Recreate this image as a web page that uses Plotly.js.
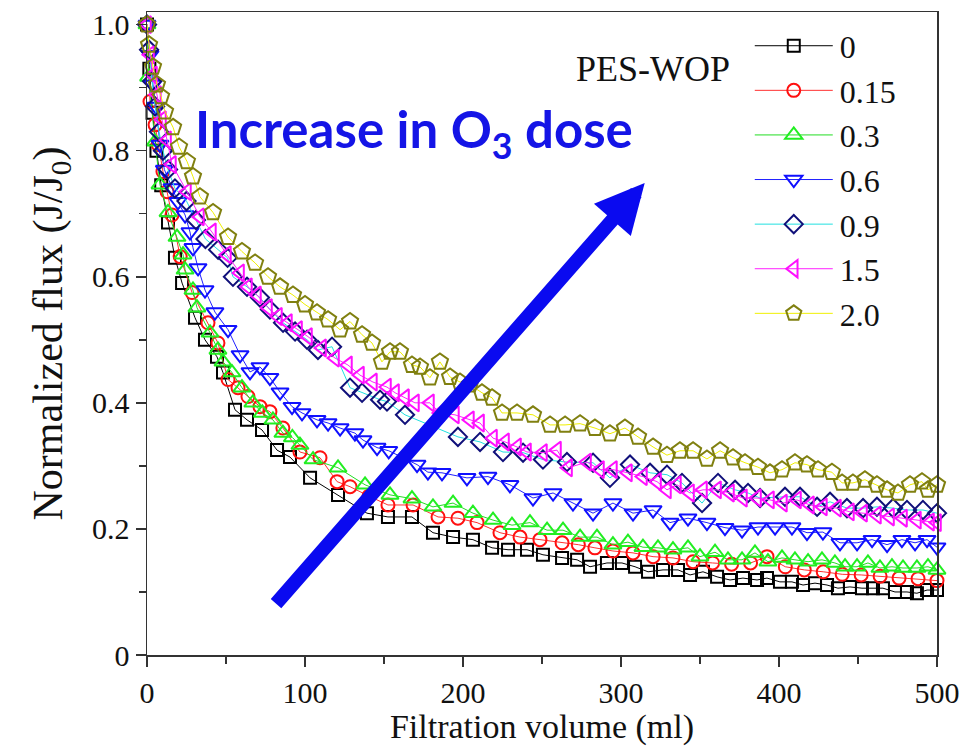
<!DOCTYPE html>
<html>
<head>
<meta charset="utf-8">
<script src="https://cdn.plot.ly/plotly-3.0.1.min.js"></script>
<style>html,body{margin:0;padding:0;background:#fff;}#chart{width:975px;height:746px;}</style>
</head>
<body>
<div id="chart"></div>
<script>
// ---- data (filtration volume in ml, normalized flux J/J0) ----
const seriesNames = ['0', '0.15', '0.3', '0.6', '0.9', '1.5', '2.0'];

const vol_0 = [0,1.5,3.5,6,9,13.3,17.7,22.2,30.4,36.7,44.3,48.1,55.7,63.3,72.8,82.3,90.5,103.2,120.9,139.2,152.5,167.7,181.0,193.7,206.3,218.4,228.5,240.5,250.6,262.7,272.2,280.4,291.1,300.6,308.9,317.1,326.6,336.1,343.7,351.9,360.8,369.0,377.2,386.1,392.4,400.6,408.2,415.2,422.8,430.4,437.3,444.9,452.5,459.5,465.8,473.4,481.0,487.3,493.7,500];
const flux_0 = [1.0,0.93,0.86,0.80,0.745,0.686,0.630,0.590,0.535,0.500,0.473,0.448,0.389,0.373,0.357,0.325,0.314,0.281,0.254,0.225,0.219,0.219,0.194,0.187,0.183,0.170,0.167,0.167,0.159,0.154,0.151,0.140,0.146,0.146,0.140,0.132,0.135,0.135,0.127,0.132,0.124,0.119,0.122,0.119,0.122,0.116,0.116,0.111,0.114,0.111,0.106,0.108,0.106,0.106,0.106,0.100,0.100,0.098,0.103,0.103];

const vol_015 = [0,1.9,5.1,7.0,10.1,12.7,15.8,21.0,28.5,38.6,44.9,51.3,57.6,63.9,71.5,77.8,86.0,96.8,109.5,120.3,128.5,140.5,152.5,168.4,184.2,196.8,208.9,223.4,236.1,248.7,262.7,273.0,283.5,294.9,307.6,320.3,332.9,345.6,358,370,382,392.4,404,416,428,440,452,464,476,488,500];
const flux_015 = [1.0,0.878,0.841,0.810,0.767,0.735,0.698,0.632,0.575,0.527,0.495,0.437,0.424,0.410,0.394,0.386,0.360,0.322,0.313,0.275,0.267,0.252,0.238,0.238,0.219,0.217,0.210,0.194,0.187,0.183,0.178,0.175,0.170,0.165,0.162,0.156,0.154,0.148,0.146,0.144,0.146,0.156,0.140,0.135,0.132,0.128,0.127,0.125,0.122,0.121,0.118];

const vol_03 = [0,1.0,5.1,8.2,13.3,19.0,22.8,24.1,29.1,31.6,39.9,44.9,48.1,53.8,60.1,67.0,73.0,79.7,86.0,92.0,96.8,105.1,120.9,138.0,153.8,167.7,181.0,193.7,206.3,219.0,231.0,242.4,253.2,263.3,274.1,284.8,294.9,304.4,313.9,323.4,332.9,342.4,350.0,359.5,367.7,376.6,384.8,393.0,401.9,410.1,418.4,427.2,435.4,441.8,449.4,456.3,463.9,471.5,478.5,487.3,494.3,500];
const flux_03 = [1.0,0.917,0.814,0.746,0.702,0.663,0.635,0.611,0.579,0.551,0.511,0.484,0.465,0.448,0.424,0.400,0.384,0.373,0.352,0.345,0.333,0.310,0.297,0.270,0.254,0.248,0.235,0.241,0.225,0.214,0.206,0.210,0.198,0.198,0.187,0.187,0.175,0.179,0.171,0.170,0.167,0.170,0.156,0.163,0.151,0.151,0.162,0.148,0.154,0.151,0.148,0.151,0.146,0.140,0.140,0.146,0.138,0.140,0.138,0.138,0.140,0.135];

const vol_06 = [0,1.9,3.8,5.7,8.2,11.0,15.8,19.6,24.1,27.2,29.1,32.3,36.7,43.0,51.3,58.9,65.2,71.5,77.8,84.2,91.8,98.1,107.6,114.6,122.2,131.6,136.7,145.6,153.0,170.9,177.8,186.7,202.5,215.8,229.7,244.3,257.0,269.6,282.3,294.9,307.6,320.3,331.0,342.4,354.4,365.8,376.6,386.7,397.5,408.2,417.7,427.8,438.6,449.4,458.9,468.4,477.8,486.1,493.7,500];
const flux_06 = [1.0,0.952,0.905,0.870,0.810,0.770,0.741,0.719,0.698,0.671,0.646,0.614,0.579,0.544,0.516,0.476,0.449,0.457,0.440,0.417,0.394,0.384,0.373,0.368,0.360,0.352,0.341,0.329,0.324,0.302,0.290,0.289,0.281,0.283,0.270,0.249,0.257,0.241,0.225,0.241,0.225,0.230,0.210,0.217,0.210,0.202,0.198,0.203,0.203,0.203,0.194,0.195,0.178,0.178,0.183,0.175,0.183,0.178,0.183,0.171];

const vol_09 = [0,1.3,3.2,5.1,7.6,10.1,13.3,17.7,25.0,31.0,37.0,45.0,51.0,54.4,63.3,71.5,77.8,86.1,93.7,101.3,108.2,117.1,128.5,136.1,147.5,151.9,163.3,196.8,210.8,225.3,238.0,250.6,265.8,282.3,293.0,305.7,318.4,329.1,338.6,351.3,361.4,372.2,380.4,388.0,403.8,413.3,424.1,432.3,443.0,453.2,462.0,472.2,481.0,491.1,500];
const flux_09 = [1.0,0.960,0.910,0.870,0.830,0.800,0.770,0.740,0.720,0.690,0.660,0.643,0.630,0.600,0.584,0.567,0.548,0.527,0.513,0.500,0.484,0.489,0.424,0.416,0.405,0.402,0.381,0.346,0.338,0.322,0.321,0.310,0.306,0.305,0.281,0.302,0.289,0.286,0.273,0.241,0.273,0.262,0.257,0.249,0.251,0.251,0.235,0.243,0.233,0.233,0.235,0.233,0.230,0.230,0.225];

const vol_15 = [0,1.9,3.8,6.3,9.5,12.7,15.8,25.3,33.5,41.1,50.6,58.9,63.9,69.6,76.6,82.9,89.2,95.6,101.9,110.8,119.0,127.2,134.8,143.0,151.9,157.0,163.3,169.6,179.1,185.4,194.9,204.4,210.8,219.0,226.6,234.2,240.5,250.6,259.5,266.5,278.5,286.7,294.9,304.4,313.9,322.8,329.1,335.4,343.7,351.9,360.8,369.0,377.2,386.1,394.3,402.5,411.4,419.6,427.8,436.7,444.9,453.2,462.0,470.3,478.5,487.3,495.6,500];
const flux_15 = [1.0,0.952,0.920,0.889,0.849,0.817,0.778,0.735,0.695,0.671,0.635,0.606,0.584,0.571,0.551,0.537,0.527,0.516,0.505,0.487,0.471,0.460,0.444,0.433,0.425,0.416,0.408,0.400,0.400,0.384,0.381,0.373,0.368,0.344,0.338,0.330,0.322,0.321,0.325,0.297,0.306,0.294,0.294,0.289,0.283,0.275,0.262,0.270,0.257,0.262,0.262,0.257,0.249,0.249,0.246,0.241,0.246,0.238,0.235,0.233,0.227,0.225,0.222,0.219,0.217,0.214,0.211,0.210];

const vol_20 = [0,1.3,3.8,6.3,8.9,11.4,16.5,20.3,25.3,29.1,33.5,41.8,51.3,60.1,68.4,76.6,84.2,92.4,100,107.6,114.6,122.2,128.5,136.1,142.4,148.7,153.8,160.1,167.7,172.8,179.1,185.4,191.8,198.1,204.4,212.0,218.4,224.7,234.2,244.3,255.1,264.6,274.1,283.5,293.0,302.5,310.8,320.3,329.1,337.3,345.6,354.4,362.7,370.9,378.5,386.7,394.3,401.9,410.1,417.7,424.7,433.5,439.9,446.8,454.4,462.0,468.4,475.3,482.9,490.5,494.3,500];
const flux_20 = [1.0,0.968,0.933,0.905,0.886,0.862,0.837,0.806,0.783,0.759,0.727,0.702,0.663,0.640,0.622,0.600,0.584,0.571,0.556,0.543,0.532,0.516,0.529,0.508,0.495,0.465,0.481,0.481,0.460,0.457,0.440,0.465,0.441,0.433,0.429,0.416,0.408,0.384,0.384,0.381,0.365,0.365,0.367,0.360,0.351,0.360,0.346,0.330,0.317,0.324,0.324,0.311,0.324,0.313,0.305,0.298,0.289,0.294,0.305,0.302,0.294,0.290,0.273,0.273,0.278,0.270,0.262,0.257,0.270,0.275,0.262,0.270];

const xTickVals = [0, 100, 200, 300, 400, 500];
const xTickText = ['0', '100', '200', '300', '400', '500'];
const xMinorVals = [50, 150, 250, 350, 450];
const yTickVals = [0, 0.2, 0.4, 0.6, 0.8, 1.0];
const yTickText = ['0', '0.2', '0.4', '0.6', '0.8', '1.0'];
const yMinorVals = [0.1, 0.3, 0.5, 0.7, 0.9];

// ---- styles ----
const vols = [vol_0, vol_015, vol_03, vol_06, vol_09, vol_15, vol_20];
const fluxes = [flux_0, flux_015, flux_03, flux_06, flux_09, flux_15, flux_20];
const lineColors = ['#000000', '#ff3030', '#22dd22', '#2020ff', '#20e0e0', '#ff20ff', '#f0f000'];
const markerColors = ['#000000', '#ff1010', '#22ee22', '#1010ff', '#10107a', '#ff10ff', '#808010'];
const symbols = ['square-open', 'circle-open', 'triangle-up-open', 'triangle-down-open', 'diamond-open', 'triangle-left-open', 'pentagon-open'];
const sizes = [12, 13, 15, 15, 14, 15, 17];

const traces = seriesNames.map((n, i) => ({
  x: vols[i], y: fluxes[i], name: n, type: 'scatter', mode: 'lines+markers',
  legendgroup: 'g' + i,
  line: {color: lineColors[i], width: 1},
  marker: {symbol: symbols[i], size: sizes[i], color: markerColors[i], line: {color: markerColors[i], width: 2}},
  cliponaxis: false
}));

const serif = 'Liberation Serif, Times New Roman, serif';
const axisCommon = {
  showline: true, linecolor: '#333', linewidth: 1.5, mirror: true,
  showgrid: false, zeroline: false,
  ticks: 'outside', ticklen: 10, tickwidth: 1.5, tickcolor: '#333',
  tickfont: {family: serif, size: 30, color: '#111'},
  tickmode: 'array'
};

const layout = {
  width: 975, height: 746,
  margin: {l: 147, r: 38, t: 12, b: 91},
  paper_bgcolor: '#fff', plot_bgcolor: '#fff',
  showlegend: true,
  legend: {
    x: 0.763, y: 0.99, xanchor: 'left', yanchor: 'top',
    font: {family: serif, size: 32, color: '#111'},
    traceorder: 'grouped', tracegroupgap: 0, itemwidth: 80,
    bgcolor: 'rgba(0,0,0,0)'
  },
  xaxis: Object.assign({}, axisCommon, {
    range: [0, 500], tickvals: xTickVals, ticktext: xTickText,
    minor: {tickmode: 'array', tickvals: xMinorVals, ticks: 'outside', ticklen: 7, tickwidth: 1.5, tickcolor: '#333'},
    title: {text: 'Filtration volume (ml)', font: {family: serif, size: 34, color: '#111'}, standoff: 0}
  }),
  yaxis: Object.assign({}, axisCommon, {
    range: [0, 1.02], tickvals: yTickVals, ticktext: yTickText,
    minor: {tickmode: 'array', tickvals: yMinorVals, ticks: 'outside', ticklen: 7, tickwidth: 1.5, tickcolor: '#333'},
    title: {text: 'Normalized flux (J/J<sub>0</sub>)', font: {family: serif, size: 42, color: '#111'}, standoff: 16}
  }),
  annotations: [
    {xref: 'paper', yref: 'paper', x: 0.64, y: 0.912, xanchor: 'center', yanchor: 'middle', showarrow: false,
     text: 'PES-WOP', font: {family: serif, size: 36, color: '#111'}},
    {xref: 'paper', yref: 'paper', x: 0.058, y: 0.812, xanchor: 'left', yanchor: 'middle', showarrow: false,
     text: '<b>Increase in O<sub>3</sub> dose</b>', font: {family: 'Lato, Open Sans, sans-serif', size: 51, color: '#1414e6'}},
    {xref: 'paper', yref: 'paper', x: 0.630, y: 0.734, text: '', showarrow: true,
     axref: 'pixel', ayref: 'pixel', ax: -370, ay: 422,
     arrowhead: 2, arrowsize: 0.7, arrowwidth: 14, arrowcolor: '#0a0af0', standoff: 0}
  ]
};

Plotly.newPlot('chart', traces, layout, {displayModeBar: false, staticPlot: true}).then(gd => {
  // lengthen legend sample lines and centre the markers on them, as in the original figure
  gd.querySelectorAll('.legend .traces').forEach(tr => {
    tr.querySelectorAll('.legendlines path').forEach(p => p.setAttribute('d', 'M5,0h78'));
    tr.querySelectorAll('.legendsymbols .legendpoints path').forEach(p => p.setAttribute('transform', 'translate(44,0)'));
  });
});
</script>
</body>
</html>
